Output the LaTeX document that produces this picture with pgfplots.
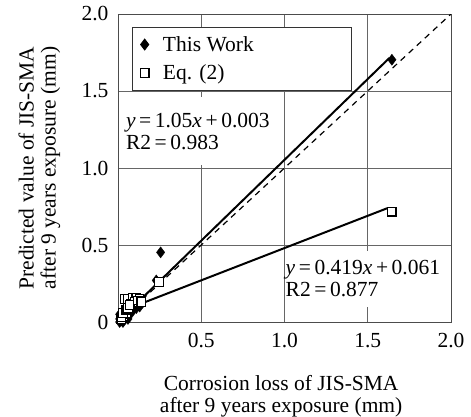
\documentclass[border=0pt]{standalone}
\usepackage{pgfplots}
\pgfplotsset{compat=1.18}
\usepackage{fontspec}
\setmainfont{Liberation Serif}
\begin{document}
\begin{tikzpicture}[font=\fontsize{21.5pt}{22pt}\selectfont]
\begin{axis}[
  at={(0,0)}, anchor=south west,
  scale only axis, width=333pt, height=308pt,
  xmin=0, xmax=2, ymin=0, ymax=2,
  xtick={0.5,1.0,1.5,2.0},
  xticklabels={0.5,1.0,1.5,2.0},
  ytick={0,0.5,1.0,1.5,2.0},
  yticklabels={0,0.5,1.0,1.5,2.0},
  /pgf/number format/assume math mode=true,
  major tick length=0pt,
  xticklabel style={yshift=-8pt},
  yticklabel style={xshift=-6pt},
  grid=major,
  major grid style={draw=black!60, line width=0.8pt},
  axis line style={draw=black!70, line width=0.9pt},
  xlabel={Corrosion loss of JIS-SMA\\after 9 years exposure (mm)},
  ylabel={Predicted value of JIS-SMA\\after 9 years exposure (mm)},
  xlabel style={at={(axis description cs:0.49,0)}, anchor=north, yshift=-50pt, align=center},
  ylabel style={at={(axis description cs:-0.236,0.5)}, anchor=center, align=center},
  legend style={at={(rel axis cs:0.042,0.958)}, anchor=north west, draw=black!80, line width=0.8pt, fill=white, inner xsep=8pt, inner ysep=7pt, row sep=8pt},
  legend cell align=left,
  legend image code/.code={\draw[#1] plot coordinates {(0pt,0pt)};},
]
% text boxes
\node[fill=white, anchor=west, align=left, inner xsep=2pt, inner ysep=16pt] at (axis cs:0.035,1.24) {\textit{y}\,=\,1.05\textit{x}\,+\,0.003\\R2\,=\,0.983};
\node[fill=white, anchor=west, align=left, inner xsep=1pt, inner ysep=10pt] at (axis cs:1.0,0.28) {\textit{y}\,=\,0.419\textit{x}\,+\,0.061\\R2\,=\,0.877};
% 1:1 line
\addplot[forget plot, black, dashed, line width=1.2pt, dash pattern=on 6pt off 5pt] coordinates {(0,0) (2,2)};
% regression lines
\addplot[forget plot, black, line width=2pt] coordinates {(0.05,0.0555) (1.63,1.7145)};
\addplot[forget plot, black, line width=2pt] coordinates {(0.05,0.082) (1.62,0.740)};
% This Work
\addplot[only marks, mark=diamond*, mark size=5.5pt, black, mark options={fill=black}] coordinates {
(0.02,0.01) (0.02,0.02) (0.03,0.03) (0.03,0.05) (0.04,0.04) (0.04,0.07) (0.05,0.03)
(0.05,0.06) (0.06,0.05) (0.07,0.08) (0.08,0.10) (0.09,0.12) (0.10,0.10) (0.11,0.09)
(0.03,0.00) (0.06,0.02) (0.08,0.06) (0.12,0.11)
(0.01,0.00) (0.01,0.02) (0.02,0.04) (0.03,0.02) (0.04,0.02) (0.05,0.05) (0.06,0.07)
(0.07,0.06) (0.09,0.08) (0.10,0.12) (0.12,0.13) (0.13,0.10) (0.14,0.12) (0.01,0.05)
(0.23,0.27) (0.256,0.452) (1.645,1.703)};
\addlegendentry{\hspace*{12pt}\makebox[178pt][l]{This Work}}
% Eq. (2)
\addplot[only marks, mark=square*, mark size=4.3pt, black, mark options={fill=white, line width=1.1pt}] coordinates {
(0.02,0.02) (0.03,0.04) (0.04,0.05) (0.05,0.06) (0.04,0.15) (0.06,0.15) (0.09,0.16)
(0.11,0.16) (0.13,0.15) (0.08,0.12) (0.10,0.13)
(0.02,0.03) (0.03,0.06) (0.05,0.08) (0.06,0.09) (0.07,0.11) (0.12,0.14) (0.14,0.13)
(0.246,0.26) (1.644,0.716)};
\addlegendentry{\hspace*{12pt}\makebox[178pt][l]{Eq. (2)}}
\end{axis}
\pgfresetboundingbox
\path (-118pt,-94pt) rectangle (353pt,322pt);
\end{tikzpicture}
\end{document}
